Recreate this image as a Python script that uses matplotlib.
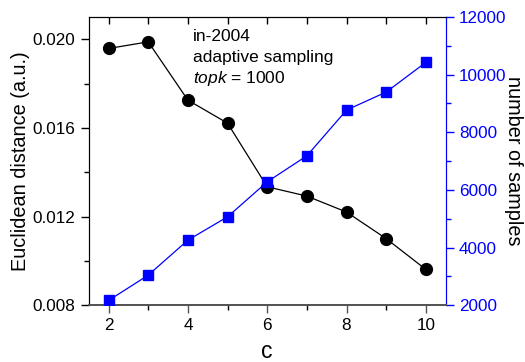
import matplotlib
matplotlib.use("Agg")
import matplotlib.pyplot as plt
from matplotlib.ticker import MultipleLocator, FormatStrFormatter

plt.rcParams['font.family'] = ['Liberation Sans', 'DejaVu Sans']
plt.rcParams['mathtext.fontset'] = 'custom'
plt.rcParams['mathtext.it'] = 'Liberation Sans:italic'
plt.rcParams['mathtext.rm'] = 'Liberation Sans'

c_vals = [2, 3, 4, 5, 6, 7, 8, 9, 10]
euclid = [0.01958, 0.01988, 0.01725, 0.01621, 0.01334, 0.01292, 0.01220, 0.01100, 0.00961]
samples = [2163, 3042, 4257, 5066, 6281, 7184, 8771, 9396, 10427]
annot_lines = ['in-2004', 'adaptive sampling', '$\\mathit{topk}$ = 1000']

fig = plt.figure(figsize=(5.25, 3.62), dpi=100)
ax = fig.add_axes([0.169, 0.157, 0.680, 0.796])
ax2 = ax.twinx()

ax.plot(c_vals, euclid, color='black', lw=0.9, marker='o', ms=8.5, zorder=3)
ax2.plot(c_vals, samples, color='#0000FF', lw=0.9, marker='s', ms=6.5, zorder=3)

ax.set_xlim(1.5, 10.5)
ax.set_ylim(0.008, 0.021)
ax2.set_ylim(2000, 12000)

ax.xaxis.set_major_locator(MultipleLocator(2))
ax.xaxis.set_minor_locator(MultipleLocator(1))
ax.yaxis.set_major_locator(MultipleLocator(0.004))
ax.yaxis.set_minor_locator(MultipleLocator(0.002))
ax.yaxis.set_major_formatter(FormatStrFormatter('%.3f'))
ax2.yaxis.set_major_locator(MultipleLocator(2000))
ax2.yaxis.set_minor_locator(MultipleLocator(1000))

ax.tick_params(axis='both', which='major', direction='out', length=6, width=1, labelsize=12.3)
ax.tick_params(axis='both', which='minor', direction='out', length=3.5, width=1)
ax.tick_params(axis='x', colors='#555555', labelcolor='black')
ax2.tick_params(axis='y', which='major', direction='out', length=6, width=1, labelsize=12.3,
                colors='#0000FF')
ax2.tick_params(axis='y', which='minor', direction='out', length=3.5, width=1, colors='#0000FF')

sec = ax.secondary_xaxis('top')
sec.set_xticks(c_vals)
sec.tick_params(direction='in', length=5, width=1, labeltop=False)
sec.spines['top'].set_visible(False)

for a in (ax, ax2):
    a.spines['right'].set_color('#0000FF')
    a.spines['bottom'].set_color('#555555')
    a.spines['bottom'].set_linewidth(1.3)

ax.set_xlabel('c', fontsize=16.5, labelpad=5)
ax.set_ylabel('Euclidean distance (a.u.)', fontsize=14.3, labelpad=2)
ax2.set_ylabel('number of samples', fontsize=14.3, rotation=270, labelpad=12)

for txt, yb in zip(annot_lines, [0.917, 0.844, 0.771]):
    ax.text(0.292, yb, txt, transform=ax.transAxes, fontsize=12.5,
            va='baseline', ha='left')

fig.savefig('out.png', dpi=100)
